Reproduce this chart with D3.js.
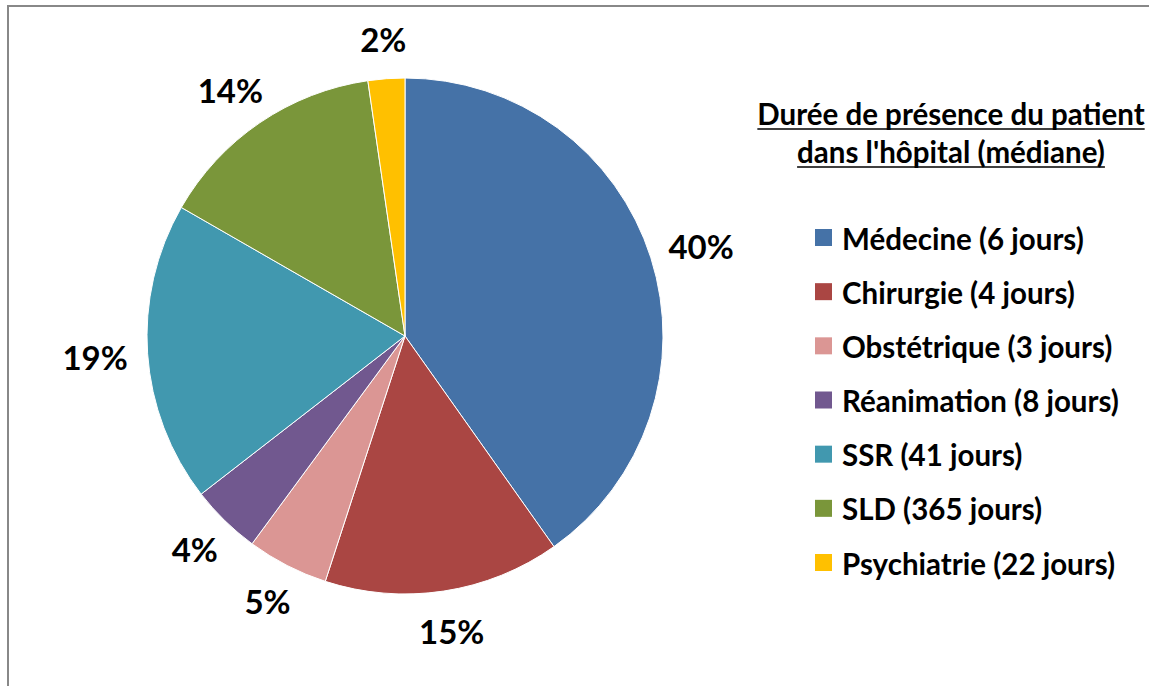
<!DOCTYPE html>
<html>
<head>
<meta charset="utf-8">
<script src="https://cdn.jsdelivr.net/npm/d3@7"></script>
<style>
  html,body{margin:0;padding:0;background:#fff;}
  #chart{width:1149px;height:686px;}
  text{font-family:Lato,"DejaVu Sans",sans-serif;font-weight:bold;fill:#000;}
</style>
</head>
<body>
<div id="chart"></div>
<script>
const categories = ["Médecine (6 jours)","Chirurgie (4 jours)","Obstétrique (3 jours)",
  "Réanimation (8 jours)","SSR (41 jours)","SLD (365 jours)","Psychiatrie (22 jours)"];
const shares = [40.2, 14.8, 5.1, 4.4, 18.8, 14.4, 2.3];
const colors = ["#4572A7","#AA4643","#DB9694","#71588F","#4198AF","#7A963A","#FFC000"];
const titleLines = ["Durée de présence du patient","dans l'hôpital (médiane)"];

(function(){
  const W=1149, H=686;
  const svg=d3.select("#chart").append("svg").attr("width",W).attr("height",H);

  // frame (cut at right/bottom like the source)
  svg.append("rect").attr("x",8).attr("y",6).attr("width",W).attr("height",H)
    .attr("fill","none").attr("stroke","#888").attr("stroke-width",2);

  const cx=405, cy=336, R=258;
  const pie=d3.pie().sort(null).value(d=>d);
  const arcs=pie(shares);
  const arc=d3.arc().innerRadius(0).outerRadius(R);

  const g=svg.append("g").attr("transform",`translate(${cx},${cy})`);
  g.selectAll("path").data(arcs).join("path")
    .attr("d",arc).attr("fill",(d,i)=>colors[i])
    .attr("stroke","#fff").attr("stroke-width",1);

  // outside-end labels
  const lab=g.selectAll("text.lab").data(arcs).join("text")
    .attr("class","lab")
    .attr("font-size",33)
    .attr("text-anchor","middle")
    .attr("dominant-baseline","central")
    .text(d=>Math.round(d.value)+"%");
  lab.each(function(d){
    const a=(d.startAngle+d.endAngle)/2;
    const bb=this.getBBox();
    const s=Math.sin(a), c=-Math.cos(a);
    const r=R+20;
    const x=r*s + s*bb.width/2;
    const y=r*c + c*bb.height/2;
    d3.select(this).attr("x",x).attr("y",y);
  });

  // legend title
  const tx=951;
  titleLines.forEach((t,i)=>{
    const y=113+i*38;
    const tt=svg.append("text").attr("x",tx).attr("y",y)
      .attr("text-anchor","middle").attr("dominant-baseline","central")
      .attr("font-size",29.5).text(t);
    const w=tt.node().getComputedTextLength();
    svg.append("line").attr("x1",tx-w/2).attr("x2",tx+w/2)
      .attr("y1",y+16).attr("y2",y+16).attr("stroke","#000").attr("stroke-width",1.5);
  });

  // legend items
  const ly=d3.scalePoint().domain(categories).range([237,562]);
  const leg=svg.selectAll("g.leg").data(categories).join("g")
    .attr("class","leg").attr("transform",d=>`translate(815,${ly(d)})`);
  leg.append("rect").attr("x",0).attr("y",-8).attr("width",17).attr("height",17)
    .attr("fill",(d,i)=>colors[i]);
  leg.append("text").attr("x",27).attr("y",1)
    .attr("dominant-baseline","central").attr("font-size",29.5).text(d=>d);
})();
</script>
</body>
</html>
